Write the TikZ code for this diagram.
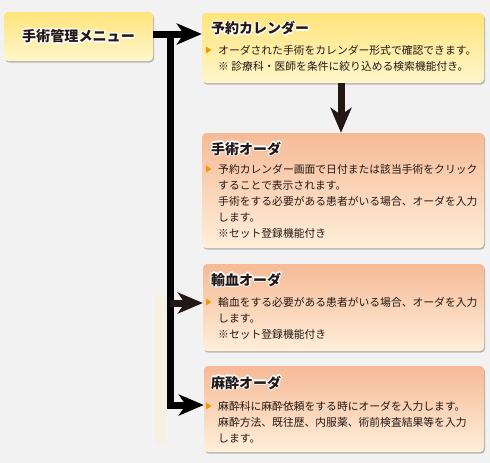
\documentclass[tikz,border=0pt]{standalone}
\usepackage{fontspec}
\setmainfont{Noto Sans CJK JP}
\usetikzlibrary{arrows.meta,shadows}
\definecolor{bgc}{HTML}{F2F2F2}
\definecolor{creamc}{HTML}{F6F0DE}
\definecolor{ytop}{HTML}{FFE47A}
\definecolor{ybot}{HTML}{FFF6CC}
\definecolor{otop}{HTML}{F6BA96}
\definecolor{obot}{HTML}{FFEFDA}
\definecolor{bulletc}{HTML}{F39800}
\definecolor{inkc}{HTML}{231815}
\newcommand\hcopy[3]{\rlap{\hspace*{#1}\raisebox{#2}{#3}}}
\newcommand\titlehalo[1]{{\color{white}\hcopy{1.3pt}{0pt}{#1}\hcopy{-1.3pt}{0pt}{#1}\hcopy{0pt}{1.3pt}{#1}\hcopy{0pt}{-1.3pt}{#1}\hcopy{0.95pt}{0.95pt}{#1}\hcopy{-0.95pt}{0.95pt}{#1}\hcopy{0.95pt}{-0.95pt}{#1}\hcopy{-0.95pt}{-0.95pt}{#1}}#1}
\begin{document}
\begin{tikzpicture}[x=1pt,y=-1pt,
  boxbase/.style={rounded corners=4pt, inner sep=0pt, shading=axis,
    drop shadow={shadow xshift=1pt, shadow yshift=-1.5pt, opacity=0.25, fill=black}},
  ybox/.style={boxbase, top color=ytop, bottom color=ybot},
  obox/.style={boxbase, top color=otop, bottom color=obot},
  titletext/.style={inner sep=0pt, text=inkc, font=\fontsize{14}{16}\selectfont\bfseries},
  bodytext/.style={inner sep=0pt, text=inkc, font=\fontsize{10.8}{16}\selectfont},
  bullet/.style={fill=bulletc},
  bar/.style={line width=7pt, draw=black, line cap=butt, line join=miter},
  tip/.style={-{Stealth[length=25pt,width=21pt,inset=7pt]}}
]
\useasboundingbox (0,0) rectangle (490,463);
\fill[bgc] (0,0) rectangle (490,463);
\fill[creamc] (155,295) rectangle (166,443);

% boxes
\node[ybox, minimum width=149pt, minimum height=49pt] (menu) at (78.5,36.5) {};
\node[ybox, minimum width=282pt, minimum height=70pt] (cal) at (343,48) {};
\node[obox, minimum width=282pt, minimum height=115pt] (surg) at (343,190.5) {};
\node[obox, minimum width=281pt, minimum height=87pt] (trans) at (343.5,307.5) {};
\node[obox, minimum width=280pt, minimum height=86pt] (ana) at (344,409) {};

% menu title
\node[titletext, font=\fontsize{14.1}{16}\selectfont\bfseries] (menuT) at (menu.center) {\titlehalo{手術管理メニュー}};

% box 1
\node[titletext, anchor=base west] (calT) at (211,34) {\titlehalo{予約カレンダー}};
\fill[bullet] (206,46.5) -- (211.5,50) -- (206,53.5) -- cycle;
\node[bodytext, anchor=base west] (calB) at (218,54) {\begin{tabular}[t]{@{}l@{}}オーダされた手術をカレンダー形式で確認できます。\\※ 診療科・医師を条件に絞り込める検索機能付き。\end{tabular}};

% box 2
\node[titletext, anchor=base west] (surgT) at (211,154) {\titlehalo{手術オーダ}};
\fill[bullet] (206,165.5) -- (211.5,169) -- (206,172.5) -- cycle;
\node[bodytext, anchor=base west] (surgB) at (218,173) {\begin{tabular}[t]{@{}l@{}}予約カレンダー画面で日付または該当手術をクリック\\することで表示されます。\\手術をする必要がある患者がいる場合、オーダを入力\\します。\\※セット登録機能付き\end{tabular}};

% box 3
\node[titletext, anchor=base west] (transT) at (211,285) {\titlehalo{輸血オーダ}};
\fill[bullet] (206,298.5) -- (211.5,302) -- (206,305.5) -- cycle;
\node[bodytext, anchor=base west] (transB) at (218,306) {\begin{tabular}[t]{@{}l@{}}輸血をする必要がある患者がいる場合、オーダを入力\\します。\\※セット登録機能付き\end{tabular}};

% box 4
\node[titletext, anchor=base west] (anaT) at (211,388) {\titlehalo{麻酔オーダ}};
\fill[bullet] (206,402.5) -- (211.5,406) -- (206,409.5) -- cycle;
\node[bodytext, anchor=base west] (anaB) at (218,410) {\begin{tabular}[t]{@{}l@{}}麻酔科に麻酔依頼をする時にオーダを入力します。\\麻酔方法、既往歴、内服薬、術前検査結果等を入力\\します。\end{tabular}};

% connectors
\coordinate (top) at (170,34);
\coordinate (mid) at (170,303);
\coordinate (bot) at (170,405);
\draw[bar, tip] (menu.east |- top) -- (cal.west |- top);
\draw[bar, tip] (top) -- (bot) -- (ana.west |- bot);
\draw[bar, tip, draw=inkc] (mid) -- (trans.west |- mid);
\draw[bar, tip, draw=inkc] ([xshift=-2pt]cal.south) -- ([xshift=-2pt]surg.north);
\end{tikzpicture}
\end{document}
